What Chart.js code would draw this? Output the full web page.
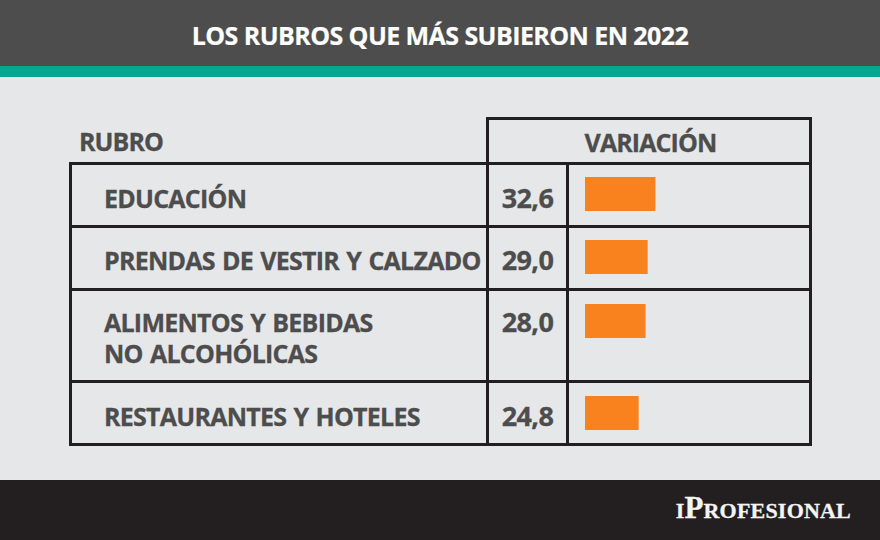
<!DOCTYPE html>
<html lang="es">
<head>
<meta charset="utf-8">
<title>Los rubros que más subieron en 2022</title>
<script src="https://cdn.jsdelivr.net/npm/chart.js@4"></script>
<style>
    html, body { margin: 0; padding: 0; }
    #page { position: relative; width: 880px; height: 540px; overflow: hidden; background: #e6e7e8;
            font-family: "Open Sans", sans-serif; font-weight: 700; color: #4d4d4d; }
    #page div { position: absolute; white-space: nowrap; }
    #top { left: 0; top: 0; width: 880px; height: 66px; background: #4d4d4d; }
    #teal { left: 0; top: 66px; width: 880px; height: 11px; background: #00a88f; }
    #foot { left: 0; top: 480px; width: 880px; height: 60px; background: #231f20; }
    #title { left: 0; top: 18px; width: 880px; text-align: center; color: #fff; font-size: 25px; line-height: 34px; letter-spacing: -0.57px; -webkit-text-stroke: 0.2px #fff; }
    #brand { right: 29px; top: 490px; color: #f4f4f4; font-family: "Liberation Serif", serif; font-size: 31px; line-height: 36px; font-variant: small-caps; letter-spacing: 0.2px; -webkit-text-stroke: 0.3px #f4f4f4; }
    .line { background: #231f20; }
    .txt { font-size: 25px; line-height: 32px; letter-spacing: -0.75px; word-spacing: 1.5px; -webkit-text-stroke: 0.3px #4d4d4d; }
    .head { letter-spacing: -0.9px; }
    .num { font-size: 27px; letter-spacing: -0.6px; }
    canvas { position: absolute; }
</style>
</head>
<body>
<div id="page">
    <div id="top"></div><div id="teal"></div><div id="foot"></div>
    <div id="title">LOS RUBROS QUE MÁS SUBIERON EN 2022</div>
    <div id="brand">iProfesional</div>
</div>
<script>
    const headers = ['RUBRO', 'VARIACIÓN'];
    const categories = [['EDUCACIÓN'], ['PRENDAS DE VESTIR Y CALZADO'], ['ALIMENTOS Y BEBIDAS', 'NO ALCOHÓLICAS'], ['RESTAURANTES Y HOTELES']];
    const values = [32.6, 29.0, 28.0, 24.8];

    // layout of the table, pixels
    const rowTops = [163, 226, 289, 381];
    const rowTextTops = [182, 244, 306, 400];
    const barTops = [177, 240, 304, 396];
    const tableBottom = 444;
    const colName = 70, colValue = 487, colBar = 567, tableRight = 810;
    const headerTop = 118;

    const page = document.getElementById('page');

    function addLine(x, y, w, h) {
        const el = document.createElement('div');
        el.className = 'line';
        el.style.cssText = `left:${x - 1}px;top:${y - 1}px;width:${w + 2.5}px;height:${h + 2.5}px`;
        page.appendChild(el);
    }

    function addText(text, x, y, cls, align) {
        const el = document.createElement('div');
        el.className = 'txt ' + cls;
        el.textContent = text;
        el.style.top = y + 'px';
        if (align === 'center') {
            el.style.left = (x - 100) + 'px';
            el.style.width = '200px';
            el.style.textAlign = 'center';
        } else {
            el.style.left = x + 'px';
        }
        page.appendChild(el);
    }

    // grid
    addLine(colValue, headerTop, tableRight - colValue, 0);
    addLine(colName, rowTops[0], tableRight - colName, 0);
    rowTops.slice(1).forEach(y => addLine(colName, y, tableRight - colName, 0));
    addLine(colName, tableBottom, tableRight - colName, 0);
    addLine(colName, rowTops[0], 0, tableBottom - rowTops[0]);
    addLine(colValue, headerTop, 0, tableBottom - headerTop);
    addLine(colBar, rowTops[0], 0, tableBottom - rowTops[0]);
    addLine(tableRight, headerTop, 0, tableBottom - headerTop);

    addText(headers[0], 79, 125, 'head');
    addText(headers[1], 650.5, 126, 'head', 'center');

    categories.forEach((lines, i) => {
        const y = rowTextTops[i];
        lines.forEach((line, k) => addText(line, 104, y + k * 31, ''));
        addText(values[i].toFixed(1).replace('.', ','), 527.5, y, 'num', 'center');

        // each row has its own height, so each bar sits in a small chart of its own
        const canvas = document.createElement('canvas');
        canvas.style.left = '585px';
        canvas.style.top = barTops[i] + 'px';
        page.appendChild(canvas);
        canvas.width = 215;
        canvas.height = 34;
        canvas.style.width = '215px';
        canvas.style.height = '34px';

        new Chart(canvas, {
            type: 'bar',
            data: {
                labels: [lines.join(' ')],
                datasets: [{
                    data: [values[i]],
                    backgroundColor: '#f9821e',
                    barPercentage: 1,
                    categoryPercentage: 1
                }]
            },
            options: {
                indexAxis: 'y',
                responsive: false,
                animation: false,
                plugins: { legend: { display: false }, tooltip: { enabled: false } },
                scales: {
                    x: { display: false, min: 0, max: 100 },
                    y: { display: false }
                }
            }
        });
    });
</script>
</body>
</html>
